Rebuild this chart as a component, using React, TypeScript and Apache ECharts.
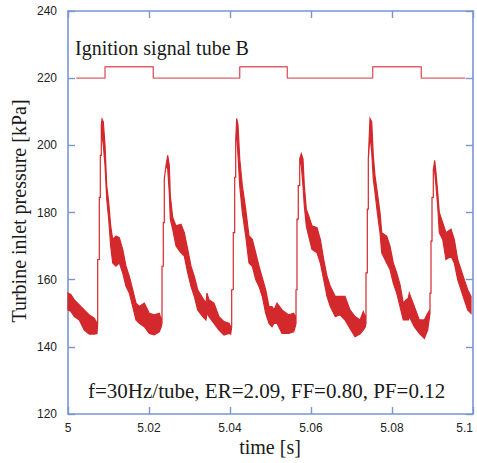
import React, { useEffect, useRef } from "react";
import * as echarts from "echarts";

// [time (s), upper envelope (kPa), lower envelope (kPa)]
const pressureSamples: [number, number, number][] = [
  [5.0, 156, 151], [5.00074, 155.5, 150.5], [5.00156, 154, 149], [5.00279, 152.5, 148],
  [5.00402, 151, 145], [5.00526, 149.5, 143.8], [5.00649, 148.5, 143.8], [5.00716, 147, 144],
  [5.00733, 147, 147], [5.00733, 166, 166], [5.00773, 166, 166], [5.00773, 184.5, 184.5],
  [5.00798, 184.5, 184.5], [5.00798, 197, 197], [5.00822, 197, 197], [5.00822, 206, 206],
  [5.0084, 207.8, 203], [5.00872, 207, 200], [5.00914, 200, 194], [5.00956, 188, 184],
  [5.01005, 183, 178], [5.01054, 176, 170], [5.01104, 172, 165], [5.01185, 173, 164],
  [5.01267, 172.5, 165], [5.01351, 169, 162], [5.01432, 164, 158], [5.01514, 161, 156],
  [5.01598, 157, 152], [5.01679, 153, 148], [5.0176, 152, 147], [5.01884, 153, 146],
  [5.02007, 150, 144], [5.02131, 149.5, 143.6], [5.02254, 150, 144.5], [5.02304, 148, 146],
  [5.02321, 147, 147], [5.02321, 164, 164], [5.02353, 164, 164], [5.02353, 177, 177],
  [5.02378, 177, 177], [5.02378, 190, 190], [5.0242, 194, 194], [5.02462, 197, 193],
  [5.02501, 194, 186], [5.02526, 185, 178], [5.02585, 178.5, 175], [5.02667, 176, 170],
  [5.0279, 176.5, 168], [5.02872, 174, 167], [5.02956, 169, 162], [5.03037, 164, 158],
  [5.03119, 161, 155], [5.03202, 157, 151], [5.03326, 154.5, 149], [5.03407, 153, 148],
  [5.03432, 156, 150], [5.03481, 154, 149], [5.03605, 153, 147], [5.03728, 149, 145],
  [5.03852, 147.5, 143.5], [5.03975, 147, 144], [5.04017, 146, 143.8],
  [5.04042, 146, 146], [5.04042, 157, 157], [5.04081, 157, 157], [5.04081, 174, 174],
  [5.04116, 174, 174], [5.04116, 190.5, 190.5], [5.04141, 190.5, 190.5], [5.04141, 201.5, 201.5],
  [5.04165, 208, 203], [5.04198, 206, 197], [5.0424, 196, 188], [5.04304, 188, 180],
  [5.04388, 181, 173], [5.04469, 173, 165], [5.04551, 172, 164], [5.04635, 168, 160],
  [5.04716, 164, 158], [5.04798, 160.5, 155], [5.04881, 157, 150], [5.04963, 152, 147],
  [5.05037, 152, 146], [5.05086, 151, 147], [5.0516, 153, 147], [5.05284, 151, 144],
  [5.05449, 149.5, 144], [5.05573, 150, 144.5], [5.05612, 149, 146],
  [5.0563, 147, 147], [5.0563, 157, 157], [5.05654, 157, 157], [5.05654, 178, 178],
  [5.05686, 178, 178], [5.05686, 188, 188], [5.05721, 188, 188], [5.05721, 196, 196],
  [5.0576, 197.5, 194], [5.05802, 196, 188], [5.05835, 188, 182], [5.05884, 181, 176],
  [5.05943, 179, 173], [5.06025, 176, 169], [5.06148, 175.5, 168], [5.0623, 172, 165],
  [5.06314, 166, 160], [5.06395, 161, 155], [5.06477, 158, 152], [5.066, 155, 149],
  [5.06716, 155, 149.5], [5.0684, 155, 148], [5.06963, 151, 145.5], [5.07086, 149, 143],
  [5.0721, 148, 143.8], [5.07291, 150.5, 145], [5.07341, 149, 146],
  [5.07358, 147, 147], [5.07358, 162, 162], [5.0739, 162, 162], [5.0739, 181, 181],
  [5.07415, 181, 181], [5.07415, 196, 196], [5.07457, 208, 203], [5.07499, 207, 198],
  [5.07538, 197, 190], [5.0758, 191, 186], [5.07637, 186, 180], [5.07704, 180, 174],
  [5.07746, 174, 168], [5.07869, 173, 165], [5.07951, 170, 163], [5.08032, 165, 159],
  [5.08116, 162, 156], [5.08198, 158.5, 152], [5.08279, 153, 148], [5.08346, 154, 148],
  [5.08402, 154.5, 148], [5.08427, 156, 149], [5.08551, 152, 146], [5.08674, 148, 144],
  [5.08798, 148, 142.5], [5.08881, 150, 145], [5.08938, 151, 150],
  [5.08938, 151, 151], [5.08938, 156, 156], [5.08963, 156, 156], [5.08963, 171.5, 171.5],
  [5.08988, 171.5, 171.5], [5.08988, 184.5, 184.5], [5.0902, 184.5, 184.5], [5.0902, 192.5, 192.5],
  [5.09054, 195.5, 192], [5.09086, 192, 188], [5.09128, 186, 182], [5.09168, 180, 174],
  [5.09252, 177, 172], [5.09333, 174, 166], [5.09457, 175, 167], [5.09538, 172, 165],
  [5.09622, 166, 160], [5.09704, 163, 157], [5.09785, 160, 154], [5.09869, 157, 151],
  [5.09951, 155, 150],
];

const signalTime = [5.002, 5.00914, 5.00914, 5.02106, 5.02106, 5.0424, 5.0424, 5.05415, 5.05415, 5.07523, 5.07523, 5.08723, 5.08723, 5.0981];
const signalValue = [220, 220, 223.4, 223.4, 220, 220, 223.4, 223.4, 220, 220, 223.4, 223.4, 220, 220];

const xMin = 5, xMax = 5.1, xStep = 0.02;
const yMin = 120, yMax = 240, yStep = 20;

const signalLabel = "Ignition signal tube B";
const conditionLabel = "f=30Hz/tube, ER=2.09, FF=0.80, PF=0.12";
const xTitle = "time [s]";
const yTitle = "Turbine inlet pressure [kPa]";

const RED = "#d3282c";
const SIGNAL = "#e0606a";
const AXIS = "#7b95d3";
const TEXT = "#1a1a1a";
const SERIF = '"Liberation Serif", "Times New Roman", serif';
const SANS = '"Liberation Sans", Arial, sans-serif';

export default function App() {
  const ref = useRef<HTMLDivElement>(null);
  useEffect(() => {
    if (!ref.current) return;
    document.body.style.margin = "0";
    document.body.style.overflow = "hidden";
    const chart = echarts.init(ref.current, undefined, { renderer: "svg" });
    const axisCommon = {
      type: "value" as const,
      axisLine: { show: true, onZero: false, lineStyle: { color: AXIS, width: 1.6 } },
      axisTick: { show: true, inside: true, length: 7, lineStyle: { color: AXIS, width: 1.4 } },
      splitLine: { show: false },
    };
    chart.setOption({
      animation: false,
      grid: { left: 68, top: 11, right: 4, bottom: 49, containLabel: false, outerBoundsMode: "none" },
      xAxis: [
        {
          ...axisCommon, min: xMin, max: xMax, interval: xStep, position: "bottom",
          axisLabel: {
            color: "#222", fontSize: 12, fontFamily: SANS, margin: 8,
            alignMaxLabel: "right",
            formatter: (v: number) => String(+v.toFixed(2)),
          },
        },
        { ...axisCommon, min: xMin, max: xMax, interval: xStep, position: "top", axisLabel: { show: false } },
      ],
      yAxis: [
        {
          ...axisCommon, min: yMin, max: yMax, interval: yStep, position: "left",
          axisLabel: { color: "#222", fontSize: 12, fontFamily: SANS, margin: 11 },
        },
        { ...axisCommon, min: yMin, max: yMax, interval: yStep, position: "right", axisLabel: { show: false } },
      ],
      series: [
        {
          type: "line",
          xAxisIndex: 0, yAxisIndex: 0,
          data: signalTime.map((t, i) => [t, signalValue[i]]),
          symbol: "none",
          lineStyle: { color: SIGNAL, width: 1.4 },
        },
        {
          type: "custom",
          xAxisIndex: 0, yAxisIndex: 0,
          data: [[pressureSamples[0][0], pressureSamples[0][1]]],
          renderItem: (_params: any, api: any) => {
            const upper = pressureSamples.map((s) => api.coord([s[0], s[1]]));
            const lower = pressureSamples.slice().reverse().map((s) => api.coord([s[0], s[2]]));
            return {
              type: "polygon",
              shape: { points: upper.concat(lower) },
              style: { fill: RED, stroke: RED, lineWidth: 1.2 },
            };
          },
        },
      ],
      graphic: [
        {
          type: "text", x: 75, y: 48,
          style: { text: signalLabel, fill: TEXT, fontSize: 20, fontFamily: SERIF, align: "left", verticalAlign: "middle" },
        },
        {
          type: "text", x: 88, y: 391,
          style: { text: conditionLabel, fill: TEXT, fontSize: 21, fontFamily: SERIF, align: "left", verticalAlign: "middle" },
        },
        {
          type: "text", x: 270, y: 447,
          style: { text: xTitle, fill: TEXT, fontSize: 20, fontFamily: SERIF, align: "center", verticalAlign: "middle" },
        },
        {
          type: "text", x: 19, y: 211, rotation: Math.PI / 2,
          style: { text: yTitle, fill: TEXT, fontSize: 20, fontFamily: SERIF, align: "center", verticalAlign: "middle" },
        },
      ],
    });
    return () => chart.dispose();
  }, []);
  return <div ref={ref} style={{ width: 477, height: 463 }} />;
}
